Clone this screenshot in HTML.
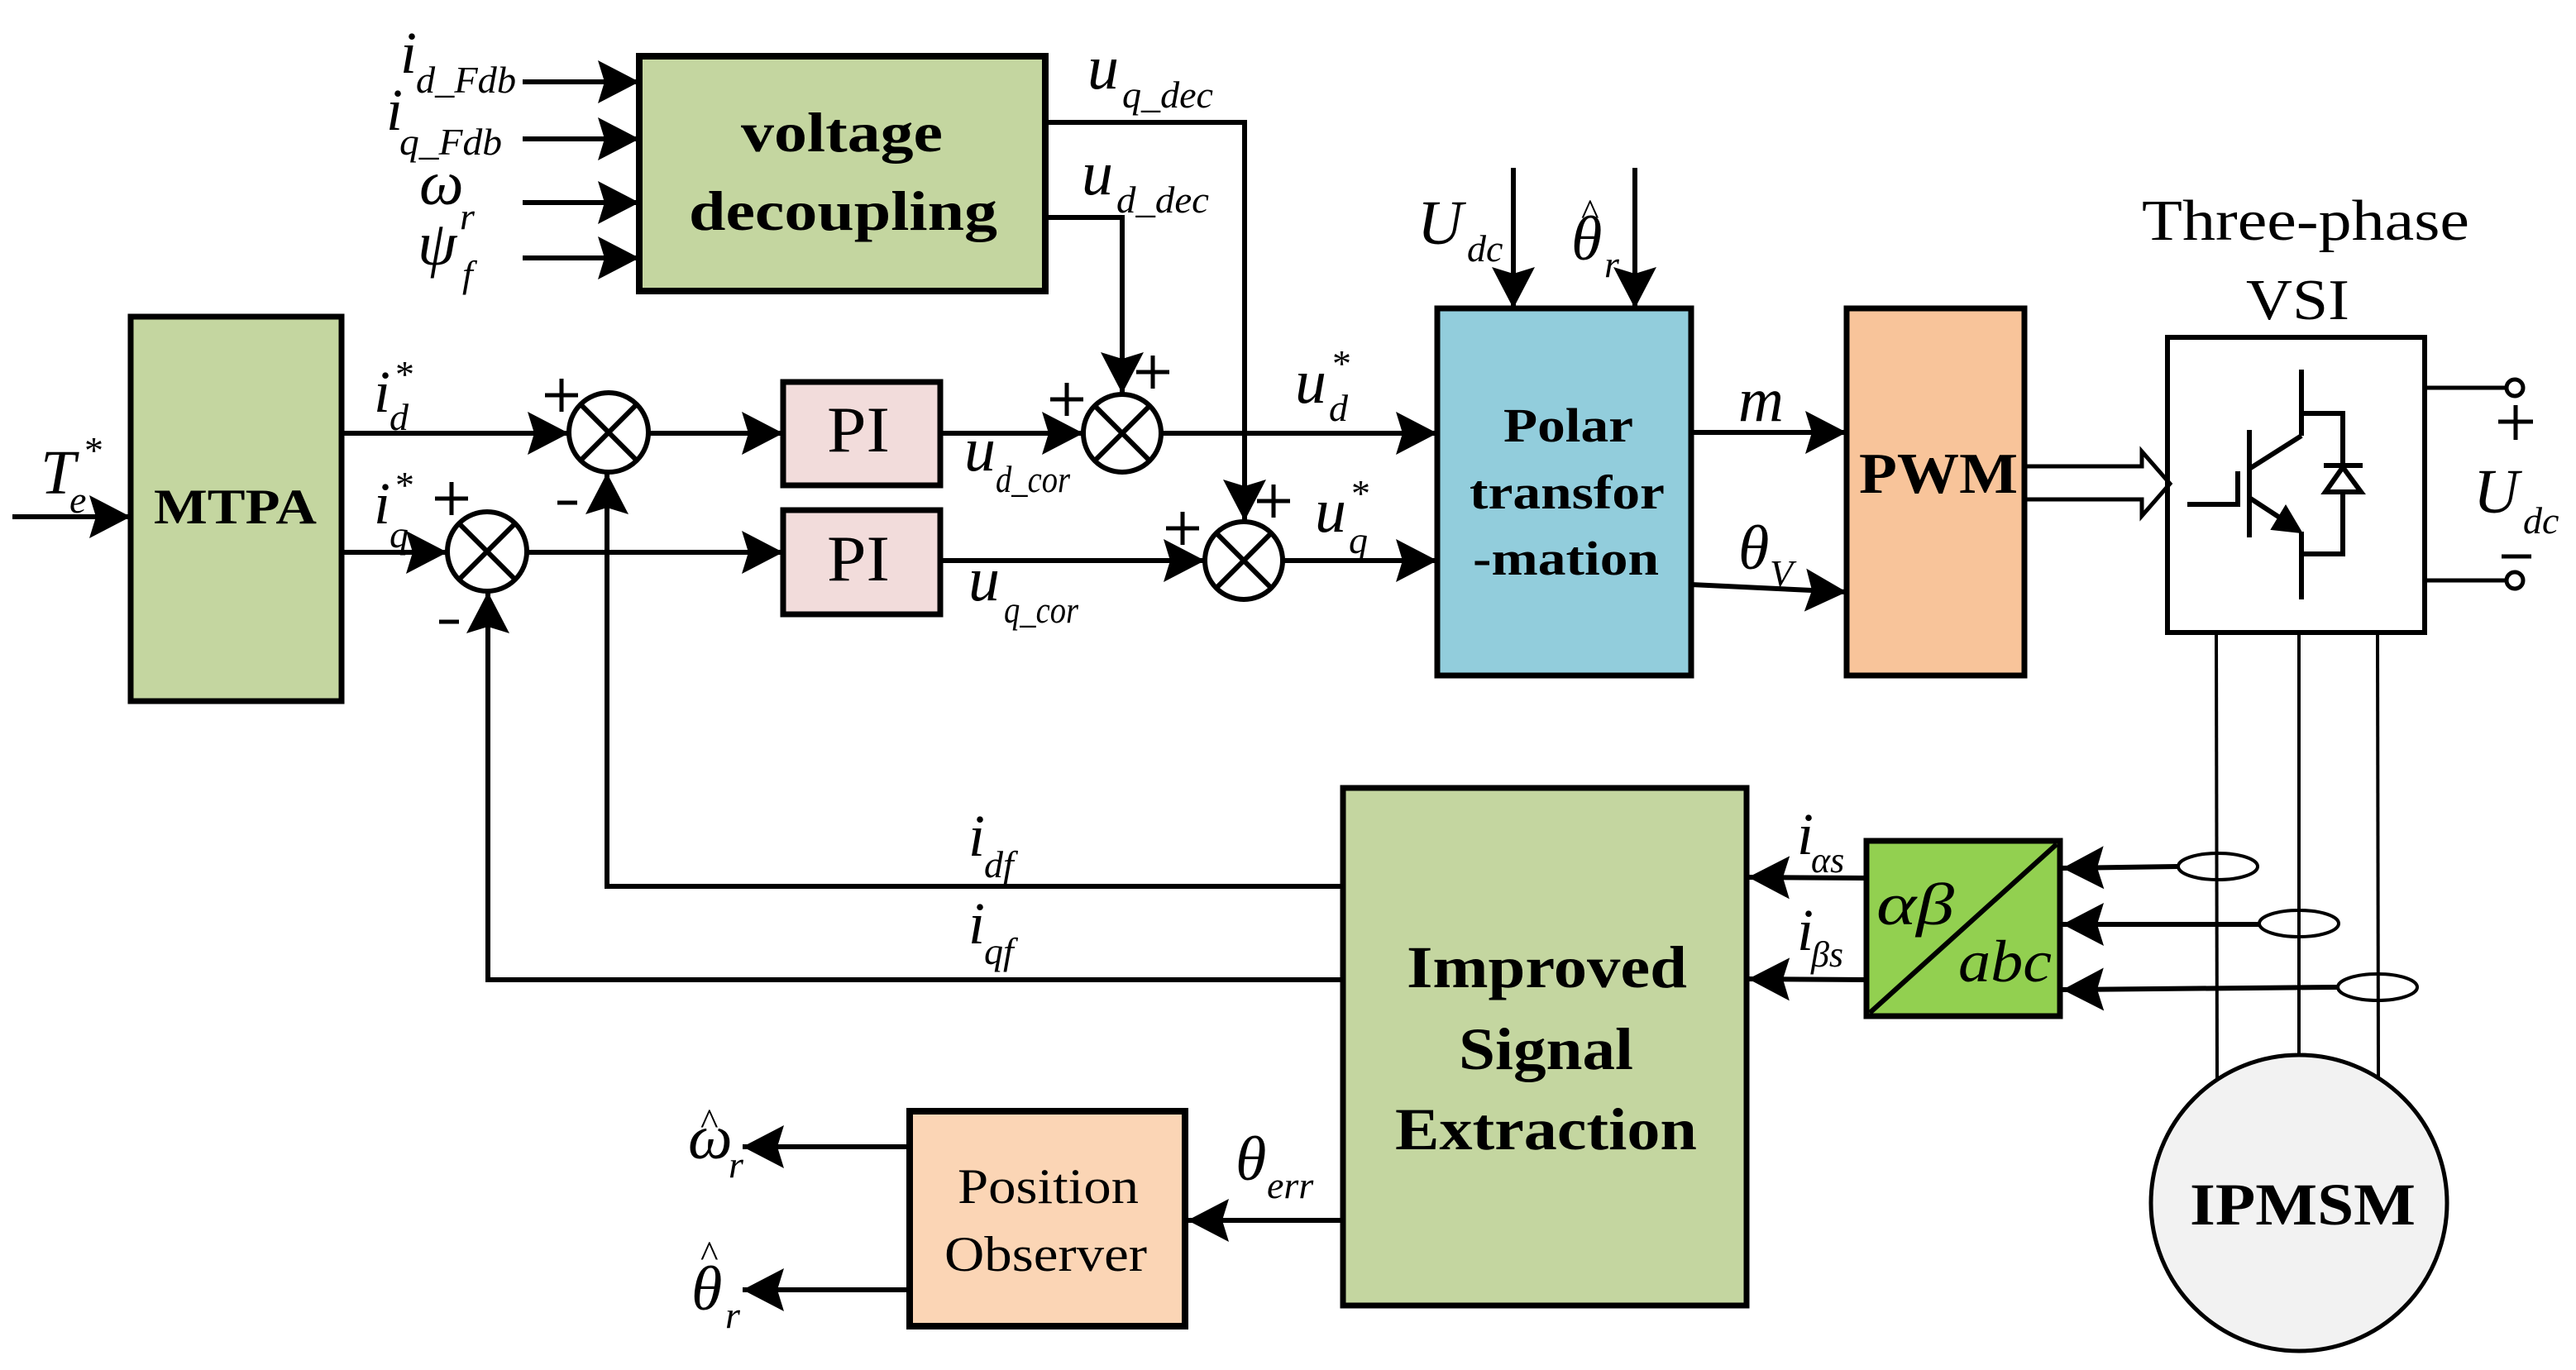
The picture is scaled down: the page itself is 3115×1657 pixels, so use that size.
<!DOCTYPE html>
<html><head><meta charset="utf-8"><style>
html,body{margin:0;padding:0;background:#fff;}
svg{display:block;}
.t{font-family:"Liberation Serif","Times New Roman",serif;}
.b{font-family:"Liberation Serif","Times New Roman",serif;font-weight:bold;}
.i{font-family:"Liberation Serif","Times New Roman",serif;font-style:italic;}
</style></head><body>
<svg width="3115" height="1657" viewBox="0 0 3115 1657" xmlns="http://www.w3.org/2000/svg">
<defs>
<marker id="a" markerUnits="userSpaceOnUse" markerWidth="52" markerHeight="60" viewBox="0 0 52 60" refX="50" refY="30" orient="auto" overflow="visible">
<path d="M0,4 L50,30 L0,56 L8,30 Z" fill="#000"/>
</marker>
</defs>
<g stroke="#000" stroke-width="6" fill="none">
<rect x="773" y="68" width="491" height="284" fill="#c4d6a0" stroke-width="8"/>
<rect x="158" y="383" width="255" height="465" fill="#c4d6a0" stroke-width="7"/>
<rect x="947" y="462" width="190" height="125" fill="#f2dcdb" stroke-width="7"/>
<rect x="947" y="617" width="190" height="126" fill="#f2dcdb" stroke-width="7"/>
<rect x="1738" y="373" width="307" height="444" fill="#92cddc" stroke-width="7"/>
<rect x="2233" y="373" width="215" height="444" fill="#f8c49a" stroke-width="7"/>
<rect x="2621" y="408" width="311" height="357" fill="#fff" stroke-width="6"/>
<rect x="1624" y="953" width="488" height="626" fill="#c4d6a0" stroke-width="7"/>
<rect x="2257" y="1017" width="234" height="212" fill="#92d050" stroke-width="7"/>
<line x1="2261" y1="1225" x2="2487" y2="1021"/>
<rect x="1100" y="1344" width="333" height="260" fill="#fbd5b5" stroke-width="8"/>
<circle cx="2780" cy="1455" r="179" fill="#f2f2f2" stroke-width="5"/>

<line x1="632" y1="99" x2="773" y2="99" marker-end="url(#a)"/>
<line x1="632" y1="168" x2="773" y2="168" marker-end="url(#a)"/>
<line x1="632" y1="245" x2="773" y2="245" marker-end="url(#a)"/>
<line x1="632" y1="312" x2="773" y2="312" marker-end="url(#a)"/>
<polyline points="1264,148 1505,148 1505,630" marker-end="url(#a)"/>
<polyline points="1264,263 1357,263 1357,476" marker-end="url(#a)"/>
<line x1="15" y1="625" x2="158" y2="625" marker-end="url(#a)"/>
<line x1="413" y1="524" x2="688" y2="524" marker-end="url(#a)"/>
<line x1="784" y1="524" x2="947" y2="524" marker-end="url(#a)"/>
<line x1="1137" y1="524" x2="1310" y2="524" marker-end="url(#a)"/>
<line x1="1404" y1="524" x2="1738" y2="524" marker-end="url(#a)"/>
<line x1="413" y1="668" x2="541" y2="668" marker-end="url(#a)"/>
<line x1="637" y1="668" x2="947" y2="668" marker-end="url(#a)"/>
<line x1="1137" y1="678" x2="1457" y2="678" marker-end="url(#a)"/>
<line x1="1552" y1="678" x2="1738" y2="678" marker-end="url(#a)"/>
<g fill="#fff">
<circle cx="736" cy="523" r="48"/>
<circle cx="589" cy="667" r="48"/>
<circle cx="1357" cy="524" r="47"/>
<circle cx="1504" cy="678" r="47"/>
</g>
<g>
<path d="M702,489 L770,557 M770,489 L702,557"/>
<path d="M555,633 L623,701 M623,633 L555,701"/>
<path d="M1324,491 L1390,557 M1390,491 L1324,557"/>
<path d="M1471,645 L1537,711 M1537,645 L1471,711"/>
</g>
<polyline points="1624,1072 734,1072 734,572" marker-end="url(#a)"/>
<polyline points="1624,1185 590,1185 590,716" marker-end="url(#a)"/>
<line x1="1830" y1="203" x2="1830" y2="373" marker-end="url(#a)"/>
<line x1="1977" y1="203" x2="1977" y2="373" marker-end="url(#a)"/>
<line x1="2045" y1="523" x2="2233" y2="523" marker-end="url(#a)"/>
<line x1="2045" y1="707" x2="2233" y2="716" marker-end="url(#a)"/>
<path d="M2448,564 L2590,564 L2590,546 L2624,585 L2590,624 L2590,604 L2448,604" stroke-width="5"/>
<line x1="2783" y1="447" x2="2783" y2="527"/>
<line x1="2783" y1="527" x2="2720" y2="567"/>
<line x1="2720" y1="520" x2="2720" y2="650"/>
<polyline points="2645,610 2706,610 2706,570"/>
<line x1="2720" y1="602" x2="2775" y2="638"/>
<polygon points="2747,640 2764,612 2783,644" fill="#000" stroke-width="2"/>
<line x1="2783" y1="643" x2="2783" y2="725"/>
<polyline points="2783,500 2833,500 2833,670 2783,670"/>
<polygon points="2812,595 2855,595 2833,565" fill="#fff"/>
<line x1="2810" y1="563" x2="2857" y2="563"/>
<line x1="2932" y1="469" x2="3030" y2="469" stroke-width="5"/>
<line x1="2932" y1="702" x2="3030" y2="702" stroke-width="5"/>
<circle cx="3041" cy="469" r="10" fill="#fff" stroke-width="5"/>
<circle cx="3041" cy="702" r="10" fill="#fff" stroke-width="5"/>
<line x1="3042" y1="490" x2="3042" y2="532" stroke-width="5"/>
<line x1="3021" y1="510" x2="3063" y2="510" stroke-width="5"/>
<line x1="3025" y1="673" x2="3061" y2="673" stroke-width="5"/>
<g stroke-width="4">
<line x1="2680" y1="765" x2="2681" y2="1307"/>
<line x1="2780" y1="765" x2="2780" y2="1276"/>
<line x1="2875" y1="765" x2="2876" y2="1303"/>
<ellipse cx="2682" cy="1048" rx="48" ry="16"/>
<ellipse cx="2780" cy="1117" rx="48" ry="16"/>
<ellipse cx="2875" cy="1194" rx="48" ry="16"/>
</g>
<line x1="2634" y1="1048" x2="2494" y2="1050" marker-end="url(#a)"/>
<line x1="2732" y1="1118" x2="2494" y2="1118" marker-end="url(#a)"/>
<line x1="2827" y1="1194" x2="2494" y2="1197" marker-end="url(#a)"/>
<line x1="2257" y1="1062" x2="2114" y2="1061" marker-end="url(#a)"/>
<line x1="2257" y1="1185" x2="2114" y2="1184" marker-end="url(#a)"/>
<line x1="1624" y1="1476" x2="1436" y2="1476" marker-end="url(#a)"/>
<line x1="1100" y1="1387" x2="898" y2="1387" marker-end="url(#a)"/>
<line x1="1100" y1="1560" x2="898" y2="1560" marker-end="url(#a)"/>
<g stroke-width="5">
<path d="M679,458 V498 M659,478 H699"/>
<path d="M674,608 H698"/>
<path d="M546,583 V623 M526,603 H566"/>
<path d="M531,752 H555"/>
<path d="M1290,463 V503 M1270,483 H1310"/>
<path d="M1394,430 V470 M1374,450 H1414"/>
<path d="M1430,619 V659 M1410,639 H1450"/>
<path d="M1540,586 V626 M1520,606 H1560"/>
</g>
</g>

<g fill="#000">
<text class="b" x="896" y="183" font-size="68" textLength="244" lengthAdjust="spacingAndGlyphs">voltage</text>
<text class="b" x="833" y="278" font-size="68" textLength="373" lengthAdjust="spacingAndGlyphs">decoupling</text>
<text class="b" x="186" y="633" font-size="60" textLength="197" lengthAdjust="spacingAndGlyphs">MTPA</text>
<text class="t" x="1000" y="546" font-size="78" textLength="76" lengthAdjust="spacingAndGlyphs">PI</text>
<text class="t" x="1000" y="702" font-size="78" textLength="76" lengthAdjust="spacingAndGlyphs">PI</text>
<text class="b" x="1818" y="534" font-size="58" textLength="157" lengthAdjust="spacingAndGlyphs">Polar</text>
<text class="b" x="1777" y="615" font-size="58" textLength="236" lengthAdjust="spacingAndGlyphs">transfor</text>
<text class="b" x="1781" y="695" font-size="58" textLength="225" lengthAdjust="spacingAndGlyphs">-mation</text>
<text class="b" x="2248" y="596" font-size="70" textLength="192" lengthAdjust="spacingAndGlyphs">PWM</text>
<text class="t" x="2590" y="290" font-size="70" textLength="396" lengthAdjust="spacingAndGlyphs">Three-phase</text>
<text class="t" x="2716" y="386" font-size="70" textLength="125" lengthAdjust="spacingAndGlyphs">VSI</text>
<text class="b" x="1701" y="1194" font-size="72" textLength="339" lengthAdjust="spacingAndGlyphs">Improved</text>
<text class="b" x="1764" y="1293" font-size="72" textLength="211" lengthAdjust="spacingAndGlyphs">Signal</text>
<text class="b" x="1687" y="1390" font-size="72" textLength="365" lengthAdjust="spacingAndGlyphs">Extraction</text>
<text class="b" x="2648" y="1481" font-size="72" textLength="273" lengthAdjust="spacingAndGlyphs">IPMSM</text>
<text class="t" x="1158" y="1455" font-size="60" textLength="219" lengthAdjust="spacingAndGlyphs">Position</text>
<text class="t" x="1142" y="1537" font-size="60" textLength="245" lengthAdjust="spacingAndGlyphs">Observer</text>
<text class="i" x="2269" y="1118" font-size="72" textLength="94" lengthAdjust="spacingAndGlyphs">αβ</text>
<text class="i" x="2368" y="1187" font-size="72" textLength="113" lengthAdjust="spacingAndGlyphs">abc</text>
</g>

<g fill="#000">
<text class="i" x="484" y="88" font-size="72">i</text><text class="i" x="503" y="112" font-size="46" textLength="121" lengthAdjust="spacingAndGlyphs">d_Fdb</text>
<text class="i" x="467" y="157" font-size="72">i</text><text class="i" x="483" y="187" font-size="46" textLength="124" lengthAdjust="spacingAndGlyphs">q_Fdb</text>
<text class="i" x="507" y="247" font-size="76">ω</text><text class="i" x="556" y="277" font-size="46">r</text>
<text class="i" x="505" y="320" font-size="76">ψ</text><text class="i" x="559" y="347" font-size="46">f</text>
<text class="i" x="1315" y="107" font-size="76">u</text><text class="i" x="1357" y="130" font-size="46" textLength="110" lengthAdjust="spacingAndGlyphs">q_dec</text>
<text class="i" x="1308" y="235" font-size="76">u</text><text class="i" x="1350" y="257" font-size="46" textLength="112" lengthAdjust="spacingAndGlyphs">d_dec</text>
<text class="i" x="49" y="597" font-size="76">T</text><text class="i" x="84" y="620" font-size="46">e</text><text class="t" x="102" y="560" font-size="46">*</text>
<text class="i" x="452" y="498" font-size="72">i</text><text class="i" x="471" y="520" font-size="46">d</text><text class="t" x="478" y="468" font-size="46">*</text>
<text class="i" x="452" y="633" font-size="72">i</text><text class="i" x="471" y="662" font-size="46">q</text><text class="t" x="478" y="602" font-size="46">*</text>
<text class="i" x="1166" y="569" font-size="76">u</text><text class="i" x="1204" y="595" font-size="46" textLength="90" lengthAdjust="spacingAndGlyphs">d_cor</text>
<text class="i" x="1171" y="726" font-size="76">u</text><text class="i" x="1214" y="753" font-size="46" textLength="90" lengthAdjust="spacingAndGlyphs">q_cor</text>
<text class="i" x="1566" y="487" font-size="76">u</text><text class="i" x="1607" y="509" font-size="46">d</text><text class="t" x="1611" y="455" font-size="46">*</text>
<text class="i" x="1590" y="643" font-size="76">u</text><text class="i" x="1631" y="669" font-size="46">q</text><text class="t" x="1634" y="612" font-size="46">*</text>
<text class="i" x="1714" y="295" font-size="76">U</text><text class="i" x="1774" y="316" font-size="46">dc</text>
<text class="i" x="1900" y="314" font-size="76">θ</text><text class="t" x="1912" y="272" font-size="46">^</text><text class="i" x="1940" y="335" font-size="46">r</text>
<text class="i" x="2102" y="509" font-size="76">m</text>
<text class="i" x="2102" y="688" font-size="76">θ</text><text class="i" x="2140" y="709" font-size="46">V</text>
<text class="i" x="2991" y="620" font-size="76">U</text><text class="i" x="3051" y="645" font-size="46">dc</text>
<text class="i" x="2173" y="1033" font-size="72">i</text><text class="i" x="2190" y="1055" font-size="44">αs</text>
<text class="i" x="2173" y="1149" font-size="72">i</text><text class="i" x="2190" y="1169" font-size="44">βs</text>
<text class="i" x="1171" y="1035" font-size="72">i</text><text class="i" x="1190" y="1061" font-size="46">df</text>
<text class="i" x="1171" y="1141" font-size="72">i</text><text class="i" x="1190" y="1166" font-size="46">qf</text>
<text class="i" x="1494" y="1427" font-size="76">θ</text><text class="i" x="1532" y="1449" font-size="46">err</text>
<text class="i" x="832" y="1401" font-size="76">ω</text><text class="t" x="847" y="1372" font-size="46">^</text><text class="i" x="881" y="1424" font-size="46">r</text>
<text class="i" x="836" y="1584" font-size="76">θ</text><text class="t" x="847" y="1532" font-size="46">^</text><text class="i" x="877" y="1606" font-size="46">r</text>
</g>
</svg>
</body></html>
